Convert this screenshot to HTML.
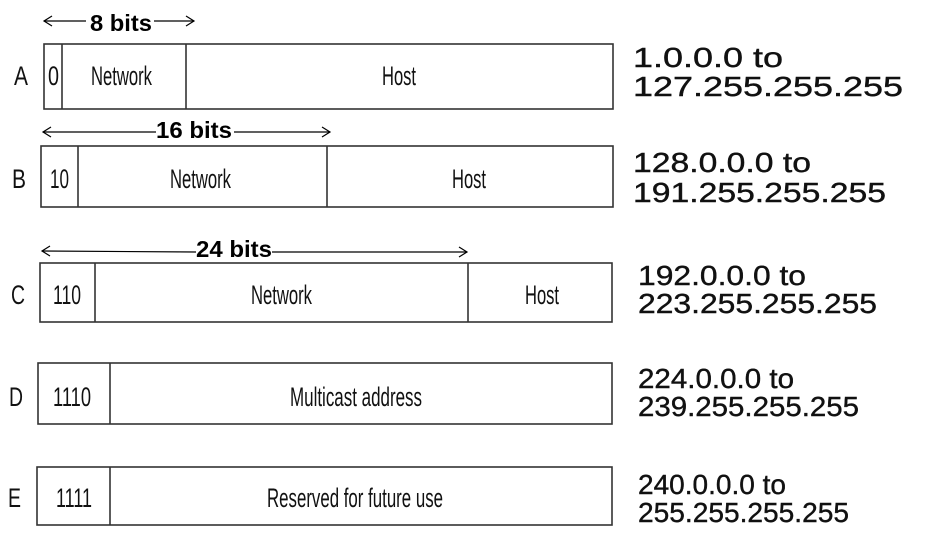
<!DOCTYPE html>
<html><head><meta charset="utf-8"><style>
html,body{margin:0;padding:0;background:#fff;}
svg{display:block}
.t{font-family:"Liberation Sans",sans-serif;font-size:27px;fill:#111;}
.r{font-family:"Liberation Sans",sans-serif;font-size:28px;fill:#111;stroke:#111;stroke-width:0.4;}
.b{font-family:"Liberation Sans",sans-serif;font-size:23px;font-weight:bold;fill:#000;}
rect,line.d{fill:none;stroke:#333;stroke-width:1.6}
.a{stroke:#000;stroke-width:1.2;fill:none}
</style></head><body>
<svg width="927" height="540" viewBox="0 0 927 540">
<!-- A -->
<text class="b" x="90" y="31" textLength="62" lengthAdjust="spacingAndGlyphs">8 bits</text>
<line class="a" x1="44" y1="21" x2="86" y2="21"/><polyline class="a" points="52,16 44,21 52,26"/>
<line class="a" x1="154" y1="21" x2="194" y2="21"/><polyline class="a" points="186,16 194,21 186,26"/>
<rect x="44" y="44" width="569" height="65"/>
<line class="d" x1="62" y1="44" x2="62" y2="109"/><line class="d" x1="186" y1="44" x2="186" y2="109"/>
<text class="t" x="14" y="85" textLength="14" lengthAdjust="spacingAndGlyphs">A</text>
<text class="t" x="48" y="85" textLength="11" lengthAdjust="spacingAndGlyphs">0</text>
<text class="t" x="91" y="85" textLength="61" lengthAdjust="spacingAndGlyphs">Network</text>
<text class="t" x="382" y="85" textLength="34" lengthAdjust="spacingAndGlyphs">Host</text>
<text class="r" x="633" y="67" textLength="150" lengthAdjust="spacingAndGlyphs">1.0.0.0 to</text>
<text class="r" x="633" y="96" textLength="270" lengthAdjust="spacingAndGlyphs">127.255.255.255</text>
<!-- B -->
<text class="b" x="156" y="138" textLength="76" lengthAdjust="spacingAndGlyphs">16 bits</text>
<line class="a" x1="43" y1="132" x2="156" y2="132"/><polyline class="a" points="51,127 43,132 51,137"/>
<line class="a" x1="234" y1="132" x2="330" y2="132"/><polyline class="a" points="322,127 330,132 322,137"/>
<rect x="41" y="146" width="572" height="61"/>
<line class="d" x1="78" y1="146" x2="78" y2="207"/><line class="d" x1="327" y1="146" x2="327" y2="207"/>
<text class="t" x="12" y="188" textLength="14" lengthAdjust="spacingAndGlyphs">B</text>
<text class="t" x="50" y="188" textLength="19" lengthAdjust="spacingAndGlyphs">10</text>
<text class="t" x="170" y="188" textLength="61" lengthAdjust="spacingAndGlyphs">Network</text>
<text class="t" x="452" y="188" textLength="34" lengthAdjust="spacingAndGlyphs">Host</text>
<text class="r" x="633" y="172" textLength="178" lengthAdjust="spacingAndGlyphs">128.0.0.0 to</text>
<text class="r" x="633" y="202" textLength="253" lengthAdjust="spacingAndGlyphs">191.255.255.255</text>
<!-- C -->
<text class="b" x="196" y="257" textLength="76" lengthAdjust="spacingAndGlyphs">24 bits</text>
<line class="a" x1="42" y1="251" x2="196" y2="252"/><polyline class="a" points="50,246 42,251 50,256"/>
<line class="a" x1="272" y1="252" x2="467" y2="252"/><polyline class="a" points="459,247 467,252 459,257"/>
<rect x="40" y="263" width="572" height="59"/>
<line class="d" x1="95" y1="263" x2="95" y2="322"/><line class="d" x1="468" y1="263" x2="468" y2="322"/>
<text class="t" x="11" y="304" textLength="14" lengthAdjust="spacingAndGlyphs">C</text>
<text class="t" x="53" y="304" textLength="28" lengthAdjust="spacingAndGlyphs">110</text>
<text class="t" x="251" y="304" textLength="61" lengthAdjust="spacingAndGlyphs">Network</text>
<text class="t" x="525" y="304" textLength="34" lengthAdjust="spacingAndGlyphs">Host</text>
<text class="r" x="638" y="285" textLength="168" lengthAdjust="spacingAndGlyphs">192.0.0.0 to</text>
<text class="r" x="638" y="313" textLength="239" lengthAdjust="spacingAndGlyphs">223.255.255.255</text>
<!-- D -->
<rect x="38" y="363" width="574" height="61"/>
<line class="d" x1="110" y1="363" x2="110" y2="424"/>
<text class="t" x="9" y="406" textLength="14" lengthAdjust="spacingAndGlyphs">D</text>
<text class="t" x="53" y="406" textLength="38" lengthAdjust="spacingAndGlyphs">1110</text>
<text class="t" x="290" y="406" textLength="132" lengthAdjust="spacingAndGlyphs">Multicast address</text>
<text class="r" x="638" y="388" textLength="156" lengthAdjust="spacingAndGlyphs">224.0.0.0 to</text>
<text class="r" x="638" y="416" textLength="221" lengthAdjust="spacingAndGlyphs">239.255.255.255</text>
<!-- E -->
<rect x="37" y="467" width="575" height="58"/>
<line class="d" x1="110" y1="467" x2="110" y2="525"/>
<text class="t" x="8" y="507" textLength="13" lengthAdjust="spacingAndGlyphs">E</text>
<text class="t" x="56" y="507" textLength="36" lengthAdjust="spacingAndGlyphs">1111</text>
<text class="t" x="267" y="507" textLength="176" lengthAdjust="spacingAndGlyphs">Reserved for future use</text>
<text class="r" x="638" y="494" textLength="148" lengthAdjust="spacingAndGlyphs">240.0.0.0 to</text>
<text class="r" x="638" y="522" textLength="211" lengthAdjust="spacingAndGlyphs">255.255.255.255</text>
</svg>
</body></html>
